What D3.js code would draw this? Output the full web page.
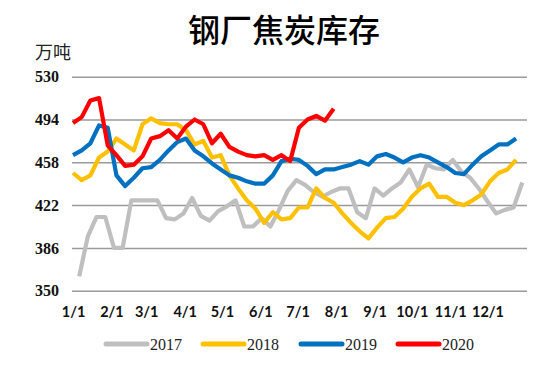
<!DOCTYPE html>
<html><head><meta charset="utf-8">
<script src="https://cdn.jsdelivr.net/npm/d3@7"></script>
<style>body{margin:0;background:#fff}</style>
</head><body>
<svg id="c" width="550" height="372"></svg>
<script>
const title = "钢厂焦炭库存";
const unit = "万吨";
const yTicks = [350, 386, 422, 458, 494, 530];
const monthLabels = ["1/1","2/1","3/1","4/1","5/1","6/1","7/1","8/1","9/1","10/1","11/1","12/1"];
const monthStartDays = [0,31,59,90,120,151,181,212,243,273,304,334];
const seriesNames = ["2017","2018","2019","2020"];
const seriesStartDay = [5, 0, 0, 0];
const s2017 = [362,396,412,412,386,386,426,426,426,426,411,410,415,428,413,409,417,421,426,404,404,411,404,418,434,443,439,433,429,433,436,436,416,411,436,430,436,441,452,437,456,453,452,460,450,445,436,425,415,418,420,441];
const s2018 = [449,443,447,462,467,478,473,468,490,495,491,490,490,485,473,476,462,464,447,436,426,419,407,416,410,411,420,420,436,428,424,415,407,400,394,403,411,412,419,429,436,440,429,429,424,422,426,431,442,449,452,460];
const s2019 = [464,468,474,489,487,447,438,445,453,454,460,468,475,478,468,463,457,452,447,445,442,440,440,447,459,461,460,455,448,452,452,454,456,459,456,463,465,462,458,462,464,462,458,454,449,448,456,463,468,473,473,478];
const s2020 = [491,496,510,512,472,464,455,456,463,478,480,485,478,488,494,490,474,482,471,467,464,463,464,460,464,459,487,494,497,493,503];
const seriesData = [s2017, s2018, s2019, s2020];
const colors = ["#BFBFBF","#FFC000","#0070C0","#FF0000"];

const svg = d3.select("#c");
const x = d3.scaleLinear().domain([0, 365]).range([73, 526]);
const y = d3.scaleLinear().domain([350, 530]).range([290.7, 76.7]);

svg.append("text").attr("x", 284).attr("y", 42).attr("text-anchor","middle")
  .attr("font-family","Noto Sans CJK SC").attr("font-weight","500").attr("font-size",32)
  .attr("fill","#000").text(title);
svg.append("text").attr("x", 35).attr("y", 59)
  .attr("font-family","Noto Sans CJK SC").attr("font-size",18).attr("fill","#222").text(unit);

// grid
const yAxis = d3.axisLeft(y).tickValues(yTicks).tickSize(-(527-72)).tickPadding(13);
const gy = svg.append("g").attr("transform","translate(72,0)").call(yAxis);
gy.select(".domain").remove();
gy.selectAll(".tick line").attr("stroke","#9a9a9a").attr("stroke-width",1.5);
gy.selectAll(".tick text").attr("font-family","Liberation Serif").attr("font-weight","700")
  .attr("font-size",16).attr("fill","#111");

// x labels
const xAxis = d3.axisBottom(x).tickValues(monthStartDays).tickFormat((d,i)=>monthLabels[i]).tickSize(0).tickPadding(0);
const gx = svg.append("g").attr("transform","translate(0,304)").call(xAxis);
gx.select(".domain").remove();
gx.selectAll(".tick text").attr("font-family","Lato").attr("font-weight","700")
  .attr("font-size",14.5).attr("fill","#111").attr("dy","0.9em");

const line = d3.line().x(d=>x(d[0])).y(d=>y(d[1]));
seriesData.forEach((arr, k) => {
  const pts = arr.map((v,i)=>[seriesStartDay[k] + 7*i, v]);
  svg.append("path").attr("d", line(pts)).attr("fill","none")
    .attr("stroke", colors[k]).attr("stroke-width",4.2).attr("stroke-linejoin","round");
});

// legend
const legX = [106, 203, 301, 398];
seriesNames.forEach((n,k)=>{
  const g = svg.append("g").attr("transform",`translate(${legX[k]},344)`);
  g.append("line").attr("x1",0).attr("x2",41).attr("stroke",colors[k]).attr("stroke-width",5).attr("stroke-linecap","round");
  g.append("text").attr("x",44).attr("y",5.5).attr("font-family","Liberation Serif")
    .attr("font-size",16).attr("fill","#222").text(n);
});
</script>
</body></html>
